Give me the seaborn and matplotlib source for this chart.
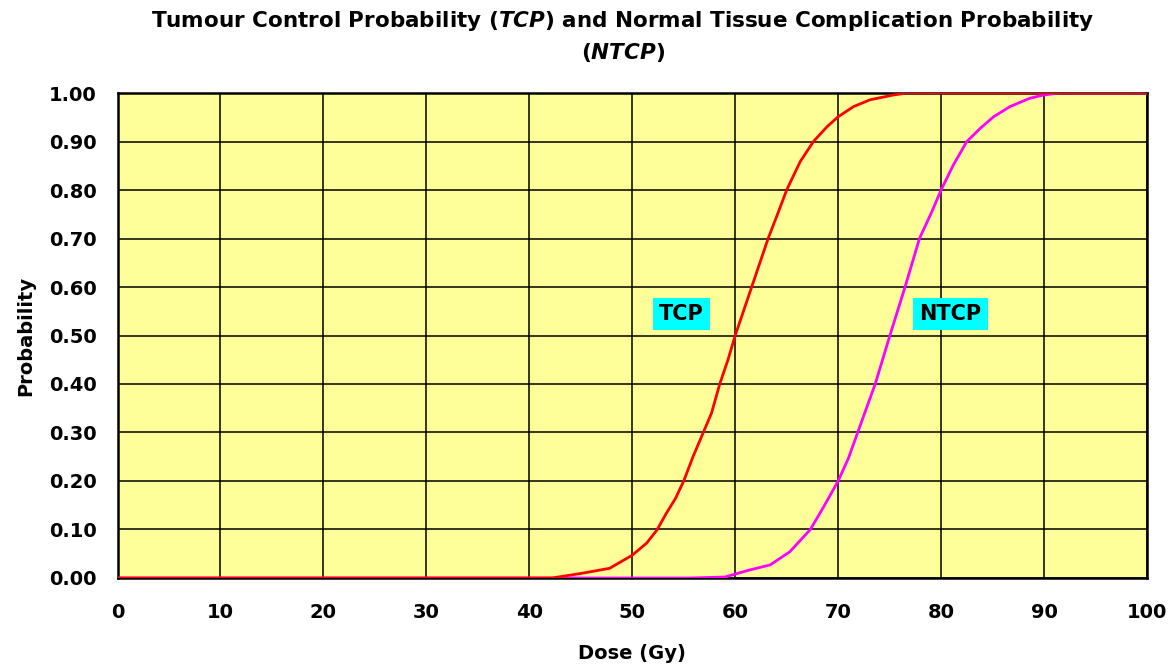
import matplotlib
matplotlib.use("Agg")
import matplotlib.pyplot as plt
import seaborn as sns
import pandas as pd

# Data
tcp_dose = [0, 42.2, 45.2, 47.8, 50.0, 51.4, 52.4, 53.3, 54.2, 55.0, 55.9, 56.9, 57.7, 58.5, 59.3,
            60.0, 61.6, 63.2, 64.2, 65.0, 66.3, 67.6, 68.9, 70.0, 71.5, 73.1, 75.4, 76.7, 100]
tcp_prob = [0, 0.0, 0.01, 0.02, 0.047, 0.072, 0.099, 0.133, 0.164, 0.20, 0.25, 0.30, 0.34, 0.40, 0.45,
            0.50, 0.60, 0.70, 0.755, 0.80, 0.858, 0.90, 0.93, 0.951, 0.972, 0.986, 0.996, 1.0, 1.0]

ntcp_dose = [0, 55.6, 59.0, 61.3, 63.4, 65.3, 67.3, 68.6, 70.0, 71.0, 71.9, 72.8, 73.6, 74.4, 75.1,
             76.5, 77.9, 79.1, 80.0, 81.2, 82.5, 83.8, 85.1, 86.7, 88.6, 90.0, 91.5, 100]
ntcp_prob = [0, 0.0, 0.002, 0.016, 0.027, 0.054, 0.10, 0.147, 0.20, 0.247, 0.30, 0.353, 0.40, 0.456, 0.505,
             0.60, 0.70, 0.755, 0.80, 0.852, 0.90, 0.927, 0.951, 0.972, 0.989, 0.996, 1.0, 1.0]

x_ticks = [0, 10, 20, 30, 40, 50, 60, 70, 80, 90, 100]
y_ticks = [0.0, 0.1, 0.2, 0.3, 0.4, 0.5, 0.6, 0.7, 0.8, 0.9, 1.0]

title_line1 = "Tumour Control Probability ($\\mathbfit{TCP}$) and Normal Tissue Complication Probability"
title_line2 = "($\\mathbfit{NTCP}$)"

sns.set_style("white")
plt.rcParams['font.family'] = ['DejaVu Sans']
plt.rcParams['mathtext.fontset'] = 'custom'
plt.rcParams['mathtext.bfit'] = 'DejaVu Sans:bold:italic'
plt.rcParams['text.color'] = 'black'
plt.rcParams['axes.labelcolor'] = 'black'
plt.rcParams['xtick.color'] = 'black'
plt.rcParams['ytick.color'] = 'black'

fig = plt.figure(figsize=(11.73, 6.71), dpi=100)
ax = fig.add_axes([0.1002, 0.1386, 0.8776, 0.7228])
ax.set_facecolor("#FFFF99")

df_tcp = pd.DataFrame({"Dose": tcp_dose, "Prob": tcp_prob})
df_ntcp = pd.DataFrame({"Dose": ntcp_dose, "Prob": ntcp_prob})
sns.lineplot(data=df_ntcp, x="Dose", y="Prob", ax=ax, color="#FF00FF", linewidth=2.0, zorder=3)
sns.lineplot(data=df_tcp, x="Dose", y="Prob", ax=ax, color="#FF0000", linewidth=2.0, zorder=4)

ax.set_xlim(0, 100)
ax.set_ylim(0, 1)
ax.set_xticks(x_ticks)
ax.set_yticks(y_ticks)
ax.set_xticklabels([str(t) for t in x_ticks], fontsize=14, fontweight="bold", color="black")
ax.set_yticklabels([f"{t:.2f}" for t in y_ticks], fontsize=14, fontweight="bold", color="black")
ax.tick_params(axis="x", length=0, pad=18)
ax.tick_params(axis="y", length=0, pad=15)
ax.grid(True, color="black", linewidth=1.1)
ax.set_axisbelow(True)
for s in ax.spines.values():
    s.set_color("black")
    s.set_linewidth(1.8)

ax.set_xlabel("Dose (Gy)", fontsize=14, fontweight="bold", labelpad=16, color="black")
ax.set_ylabel("Probability", fontsize=14, fontweight="bold", labelpad=10, color="black")

ax.text(54.8, 0.544, "TCP", fontsize=15, fontweight="bold", ha="center", va="center", color="black",
        bbox=dict(boxstyle="square,pad=0.3", facecolor="#00FFFF", edgecolor="none"), zorder=5)
ax.text(80.9, 0.544, "NTCP", fontsize=15, fontweight="bold", ha="center", va="center", color="black",
        bbox=dict(boxstyle="square,pad=0.3", facecolor="#00FFFF", edgecolor="none"), zorder=5)

fig.text(0.531, 1 - 21 / 671, title_line1, fontsize=15.5, fontweight="bold", ha="center", va="center", color="black")
fig.text(0.531, 1 - 53 / 671, title_line2, fontsize=15.5, fontweight="bold", ha="center", va="center", color="black")

fig.savefig("out.png", dpi=100)
